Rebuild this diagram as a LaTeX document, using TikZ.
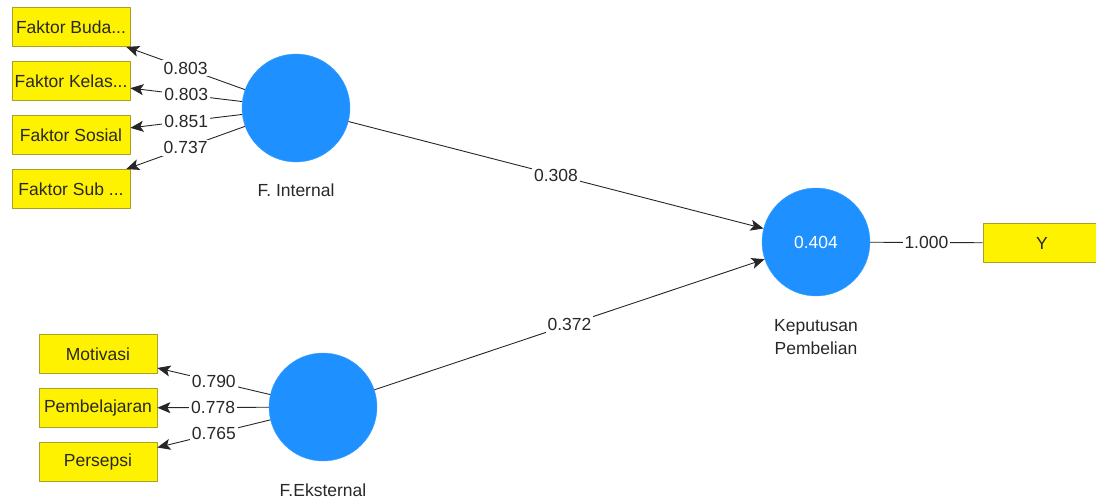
\documentclass[tikz,border=0pt]{standalone}
\usepackage{fontspec}
\setmainfont{Liberation Sans}
\usetikzlibrary{arrows.meta}
\definecolor{lvblue}{RGB}{30,144,255}
\definecolor{indborder}{RGB}{170,160,40}
\definecolor{txtgray}{RGB}{40,40,40}
\begin{document}
\begin{tikzpicture}[x=1pt, y=-1pt, font=\fontsize{17.5}{20}\selectfont, text=txtgray, line join=round, >={Stealth[length=13pt,width=11pt,inset=3pt]},
	lv/.style={circle, fill=lvblue, draw=lvblue!85!white, minimum size=108pt, inner sep=0pt},
	ind/.style={rectangle, fill=yellow, draw=indborder, line width=0.8pt, minimum width=118pt, minimum height=39pt, inner sep=0pt},
	lbl/.style={fill=white, inner sep=2pt},
	path/.style={draw=black!85, line width=0.9pt}]
			\useasboundingbox (0,0) rectangle (1096,503);
			\node[lv] (fi) at (296,108) {};
			\node[lv] (fe) at (323,407) {};
			\node[lv, text=white] (kp) at (816,242) {0.404};
			\node at (296,190) (fil) {F. Internal};
			\node at (323,490) (fel) {F.Eksternal};
			\node[align=center] at (816,337) (kpl) {Keputusan\\[3pt]Pembelian};
			\node[ind] (bd) at (71,27) {Faktor Buda...};
			\node[ind] (kl) at (71,81) {Faktor Kelas...};
			\node[ind] (ss) at (71,135) {Faktor Sosial};
			\node[ind] (sb) at (71,189) {Faktor Sub ...};
			\node[ind] (mt) at (98,354) {Motivasi};
			\node[ind] (pb) at (98,408) {Pembelajaran};
			\node[ind] (ps) at (98,462) {Persepsi};
			\node[ind] (y) at (1042,243) {Y};
			\draw[path,->] (fi) -- node[lbl]{0.803} (bd);
			\draw[path,->] (fi) -- node[lbl]{0.803} (kl);
			\draw[path,->] (fi) -- node[lbl]{0.851} (ss);
			\draw[path,->] (fi) -- node[lbl]{0.737} (sb);
			\draw[path,->] (fe) -- node[lbl]{0.790} (mt);
			\draw[path,->] (fe) -- node[lbl]{0.778} (pb);
			\draw[path,->] (fe) -- node[lbl]{0.765} (ps);
			\draw[path,->] (fi) -- node[lbl]{0.308} (kp);
			\draw[path,->] (fe) -- node[lbl]{0.372} (kp);
			\draw[path] (kp) -- node[lbl]{1.000} (y);
	\end{tikzpicture}
\end{document}
